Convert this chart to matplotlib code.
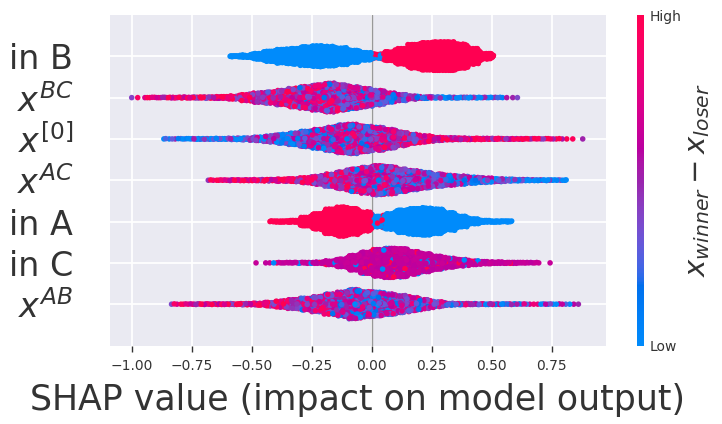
import numpy as np
import matplotlib
matplotlib.use("Agg")
import matplotlib.pyplot as plt
import seaborn as sns
from matplotlib.colors import LinearSegmentedColormap
from matplotlib.cm import ScalarMappable

# ---- data ----
# SHAP values are binned on a fixed grid (bins of 0.05 starting at -1.05),
# counts give how many dots fall in each bin, level gives the mean feature
# value (0 = low / blue, 1 = high / red) of the dots in that bin.
BIN_LEFT = -1.05
BIN_W = 0.05

features = ["in B", "$x^{BC}$", "$x^{[0]}$", "$x^{AC}$", "in A", "in C", "$x^{AB}$"]

in_B_counts = [0, 0, 0, 0, 0, 0, 0, 0, 0, 10, 24, 58, 104, 138, 158, 190, 210, 198, 170, 124,
               78, 44, 90, 158, 238, 278, 290, 290, 244, 158, 58, 6, 0, 0, 0, 0, 0, 0, 0]
in_B_level = [0] * 20 + [0.08, 0.5, 0.93] + [1] * 16
in_B_range = (-0.59, 0.507)

x_BC_counts = [0, 2, 5, 6, 8, 10, 12, 14, 20, 30, 58, 90, 110, 138, 178, 210, 244, 278, 244, 210,
               178, 138, 90, 58, 30, 16, 12, 10, 8, 7, 6, 5, 2, 1, 0, 0, 0, 0, 0]
x_BC_level = [0.82] * 7 + [0.75] * 4 + [0.68] * 4 + [0.58] * 4 + [0.5] * 2 + [0.42] * 2 + [0.32] * 3 + [0.18] * 13
x_BC_range = (-1.0, 0.607)

x_0_counts = [0, 0, 0, 2, 4, 6, 8, 9, 10, 14, 20, 34, 58, 84, 110, 144, 178, 218, 264, 278,
              238, 218, 178, 130, 84, 58, 32, 22, 16, 14, 12, 10, 9, 8, 6, 5, 4, 2, 1]
x_0_level = [0.15] * 11 + [0.3] * 4 + [0.42] * 3 + [0.52] * 4 + [0.6] * 3 + [0.72] * 3 + [0.86] * 11
x_0_range = (-0.866, 0.879)

x_AC_counts = [0, 0, 0, 0, 0, 0, 0, 3, 6, 8, 10, 12, 16, 22, 28, 50, 78, 118, 164, 218,
               250, 284, 264, 218, 184, 150, 118, 98, 78, 58, 44, 30, 20, 14, 10, 8, 6, 2, 0]
x_AC_level = [0.88] * 13 + [0.78] * 3 + [0.65] * 3 + [0.52] * 5 + [0.42] * 4 + [0.32] * 4 + [0.15] * 7
x_AC_range = (-0.681, 0.81)

in_A_counts = [0, 0, 0, 0, 0, 0, 0, 0, 0, 0, 0, 0, 6, 14, 20, 84, 150, 238, 284, 250,
               184, 104, 150, 218, 250, 264, 238, 170, 104, 50, 20, 14, 8, 0, 0, 0, 0, 0, 0]
in_A_level = [1] * 20 + [0.95, 0.3, 0.05] + [0] * 16
in_A_range = (-0.424, 0.583)

in_C_counts = [0, 0, 0, 0, 0, 0, 0, 0, 0, 0, 0, 1, 3, 6, 8, 10, 14, 38, 78, 144,
               210, 264, 290, 278, 224, 178, 130, 90, 64, 38, 24, 16, 12, 9, 6, 1, 0, 0, 0]
in_C_level = [0.63] * 39
in_C_range = (-0.482, 0.743)

x_AB_counts = [0, 0, 0, 0, 3, 5, 7, 8, 9, 10, 14, 20, 38, 64, 90, 118, 150, 198, 238, 290,
               250, 238, 204, 170, 130, 90, 50, 20, 14, 11, 9, 8, 7, 5, 3, 5, 4, 3, 1]
x_AB_level = [0.8] * 11 + [0.7] * 4 + [0.58] * 3 + [0.42] * 5 + [0.48] * 4 + [0.45] * 8 + [0.3] * 4
x_AB_range = (-0.834, 0.861)

# how far single dots stray from the bin's mean colour
mix_wide = [-0.35, 0.3, 0.05, -0.2, 0.38, -0.1, 0.15, -0.3, 0.25, -0.05, 0.33, -0.25, 0.1, -0.15, 0.2, -0.42]
mix_c = [0, 0.02, -0.03, 0.01, 0.37, -0.02, 0, 0.03, -0.01, 0.02,
         -0.6, 0.01, -0.01, 0.02, -0.03, 0, 0.02, -0.01, 0.01, 0]

rows = [  # top to bottom
    (in_B_counts, in_B_level, in_B_range, mix_wide, True),
    (x_BC_counts, x_BC_level, x_BC_range, mix_wide, False),
    (x_0_counts, x_0_level, x_0_range, mix_wide, False),
    (x_AC_counts, x_AC_level, x_AC_range, mix_wide, False),
    (in_A_counts, in_A_level, in_A_range, mix_wide, True),
    (in_C_counts, in_C_level, in_C_range, mix_c, False),
    (x_AB_counts, x_AB_level, x_AB_range, mix_wide, False),
]


def shap_red_blue():
    # shap's red_blue map, built in LCh space
    blue_lch = [54., 70., 4.6588]
    red_lch = [54., 90., 0.35470565 + 2 * np.pi]
    l_mid = 40.
    nsteps = 100
    l_vals = np.concatenate([np.linspace(blue_lch[0], l_mid, nsteps // 2),
                             np.linspace(l_mid, red_lch[0], nsteps // 2)])
    c_vals = np.linspace(blue_lch[1], red_lch[1], nsteps)
    h_vals = np.linspace(blue_lch[2], red_lch[2], nsteps)
    a = c_vals * np.cos(h_vals)
    b = c_vals * np.sin(h_vals)
    fy = (l_vals + 16) / 116
    fx = fy + a / 500
    fz = fy - b / 200

    def finv(t):
        return np.where(t > 0.2068966, t ** 3, (t - 16 / 116) / 7.787)

    xyz = np.stack([0.95047 * finv(fx), finv(fy), 1.08883 * finv(fz)])
    M = np.array([[3.2406, -1.5372, -0.4986],
                  [-0.9689, 1.8758, 0.0415],
                  [0.0557, -0.2040, 1.0570]])
    lin = M @ xyz
    rgb = np.where(lin > 0.0031308, 1.055 * np.abs(lin) ** (1 / 2.4) - 0.055, 12.92 * lin)
    rgb = np.clip(rgb, 0, 1).T
    return LinearSegmentedColormap.from_list("red_blue", rgb)


def scramble(k, salt):
    # integer hash, used only to shuffle drawing / stacking order deterministically
    h = (k.astype(np.uint64) * np.uint64(2654435761) + np.uint64(salt)) % np.uint64(4294967296)
    h ^= h >> np.uint64(13)
    h = (h * np.uint64(40503)) % np.uint64(4294967296)
    return h


def build_row(counts, level, rng, mix, binary):
    lo, hi = rng
    xs, cs = [], []
    for i, n in enumerate(counts):
        if n == 0:
            continue
        a = BIN_LEFT + i * BIN_W
        b = a + BIN_W
        if a <= lo < b:
            pts = lo + (b - lo) * np.arange(n) / n
        elif a < hi <= b:
            pts = hi - (hi - a) * np.arange(n) / n
        else:
            pts = a + (b - a) * (np.arange(n) + 0.5) / n
        xs.append(np.sort(pts))
        cs.append(np.full(n, level[i], dtype=float))
    xs = np.concatenate(xs)
    cs = np.concatenate(cs)
    k = np.arange(len(xs))
    pick = (scramble(k, 977) >> np.uint64(7)) % np.uint64(len(mix))
    cs = np.clip(cs + np.array(mix)[pick.astype(int)], 0, 1)
    if binary:
        cs = np.round(cs)

    # beeswarm stacking like shap.summary_plot
    stack_key = scramble(k, 31)
    nbins = 100
    quant = np.round(nbins * (xs - xs.min()) / (xs.max() - xs.min() + 1e-8))
    inds = np.lexsort((stack_key, quant))
    ys = np.zeros(len(xs))
    layer, last_bin = 0, -1
    for ind in inds:
        if quant[ind] != last_bin:
            layer = 0
        ys[ind] = np.ceil(layer / 2) * ((layer % 2) * 2 - 1)
        layer += 1
        last_bin = quant[ind]
    ys *= 0.9 * (0.4 / np.max(ys + 1))
    draw = np.argsort(scramble(k, 5003))
    return xs[draw], ys[draw], cs[draw]


sns.set_style("darkgrid")
plt.rcParams["font.family"] = "DejaVu Sans"
axis_color = "#333333"

cmap = shap_red_blue()
fig = plt.figure(figsize=(7.22, 4.24), dpi=100)
ax = fig.add_axes([110 / 722, 78.5 / 424, 496 / 722, 330.5 / 424])

n_rows = len(rows)
for r, (counts, level, rng, mix, binary) in enumerate(rows):
    pos = n_rows - 1 - r
    xs, ys, cs = build_row(counts, level, rng, mix, binary)
    ax.scatter(xs, pos + ys, c=cs, cmap=cmap, vmin=0, vmax=1, s=16,
               linewidth=0, zorder=3, rasterized=True)

ax.axvline(0, color="#999999", lw=1, zorder=1)
ax.set_xlim(-1.0904, 0.976)
ax.set_ylim(-1, n_rows)
ax.set_yticks(range(n_rows))
ax.set_yticklabels(features[::-1], fontsize=24, color=axis_color)
ax.set_xticks([-1.0, -0.75, -0.5, -0.25, 0.0, 0.25, 0.5, 0.75])
ax.grid(True, color="white", lw=1.3)
ax.xaxis.set_ticks_position("bottom")
ax.yaxis.set_ticks_position("none")
ax.tick_params("x", labelsize=10, labelcolor=axis_color, color=axis_color,
               length=4, width=1, direction="out", pad=6)
ax.tick_params("y", pad=23)
for side in ["top", "right", "left", "bottom"]:
    ax.spines[side].set_visible(False)
ax.set_xlabel("SHAP value (impact on model output)", fontsize=25, color=axis_color, labelpad=7)

cax = fig.add_axes([637 / 722, 78.5 / 424, 7 / 722, 330.5 / 424])
m = ScalarMappable(cmap=cmap)
m.set_array([0, 1])
cb = fig.colorbar(m, cax=cax, ticks=[0, 1])
cb.set_ticklabels(["Low", "High"])
cb.ax.tick_params(labelsize=10, length=0, pad=4, labelcolor=axis_color)
cb.outline.set_visible(False)
cb.set_label("$x_{winner} - x_{loser}$", size=21, labelpad=2, color=axis_color)

fig.savefig("out.png", dpi=100)
